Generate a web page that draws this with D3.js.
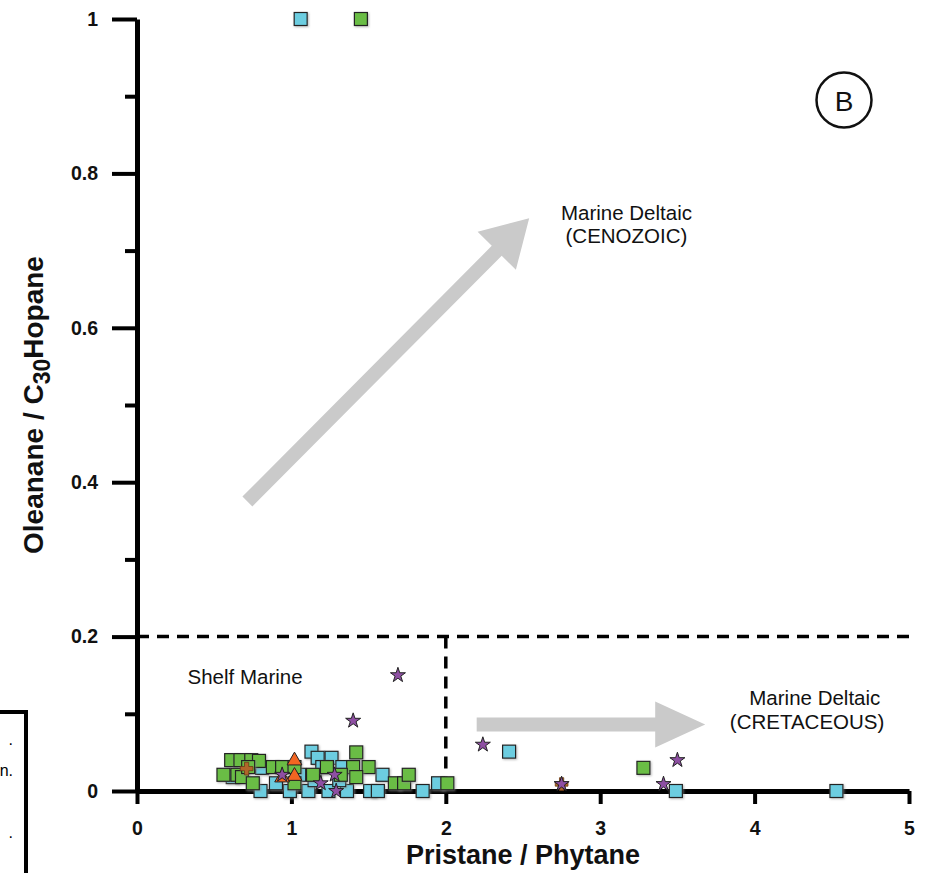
<!DOCTYPE html>
<html><head><meta charset="utf-8">
<script src="https://cdn.jsdelivr.net/npm/d3@7"></script>
<style>body{margin:0;background:#fff}svg{display:block;font-family:Arial,"Liberation Sans",sans-serif}</style>
</head><body>
<script>
// ---- data (Pristane/Phytane, Oleanane/C30Hopane) ----
const blueSquares = [
  [1.06,1.0],[2.41,0.051],[3.49,0.0],[4.53,0.0],
  [1.13,0.051],[1.17,0.043],[1.26,0.043],[0.81,0.030],[0.62,0.018],[1.59,0.021],
  [0.80,0.0],[0.99,0.0],[1.11,0.0],[1.24,0.0],[1.36,0.0],[1.51,0.0],[1.56,0.0],
  [1.85,0.0],[1.95,0.010],[1.31,0.014],[1.15,0.014],[1.05,0.021],[1.33,0.031],
  [0.90,0.010],[1.20,0.031]
];
const greenSquares = [
  [1.45,1.0],[3.28,0.030],
  [0.61,0.040],[0.67,0.040],[0.74,0.040],[0.79,0.039],[0.56,0.021],[0.65,0.021],
  [0.68,0.018],[0.75,0.010],[0.88,0.031],[0.94,0.031],[1.02,0.031],[1.14,0.021],
  [1.23,0.031],[1.42,0.050],[1.40,0.031],[1.50,0.031],[1.42,0.018],[1.67,0.010],
  [1.73,0.010],[1.76,0.021],[2.01,0.010],[1.02,0.010],[0.72,0.031],[1.32,0.021]
];
const triangles = [[1.02,0.038],[1.02,0.018],[0.94,0.016]];
const crosses = [[0.71,0.029],[2.75,0.009]];
const stars = [
  [1.69,0.150],[1.40,0.091],[2.24,0.060],[2.75,0.009],[3.41,0.009],[3.50,0.040],
  [0.94,0.021],[1.19,0.010],[1.28,0.021],[1.29,0.0]
];
const xTicks = [0,1,2,3,4,5];
const yTicks = [0,0.2,0.4,0.6,0.8,1];
const yMinor = [0.1,0.3,0.5,0.7,0.9];
const arrows = [
  {from:[0.715,0.375], to:[2.54,0.742], head:46, headHalf:27, half:7},
  {from:[2.20,0.086], to:[3.68,0.086], head:50, headHalf:23, half:7}
];
const labels = [
  {t:"Marine Deltaic", x:3.17, y:0.740},
  {t:"(CENOZOIC)", x:3.17, y:0.710},
  {t:"Marine Deltaic", x:4.39, y:0.111},
  {t:"(CRETACEOUS)", x:4.34, y:0.080},
  {t:"Shelf Marine", x:0.70, y:0.139}
];

const W=942,H=873;
const svg=d3.select("body").append("svg").attr("width",W).attr("height",H);
const x=d3.scaleLinear().domain([0,5]).range([137,909]);
const y=d3.scaleLinear().domain([0,1]).range([791,19]);

const defs=svg.append("defs");
const f=defs.append("filter").attr("id","sh").attr("x","-30%").attr("y","-30%").attr("width","170%").attr("height","170%");
f.append("feDropShadow").attr("dx",1).attr("dy",1).attr("stdDeviation",0.8).attr("flood-color","#888").attr("flood-opacity",0.6);

// arrows
arrows.forEach(a=>{
  const x0=x(a.from[0]),y0=y(a.from[1]),x1=x(a.to[0]),y1=y(a.to[1]);
  const L=Math.hypot(x1-x0,y1-y0),ux=(x1-x0)/L,uy=(y1-y0)/L,nx=-uy,ny=ux;
  const bx=x1-ux*a.head,by=y1-uy*a.head;
  const pts=[[x0+nx*a.half,y0+ny*a.half],[bx+nx*a.half,by+ny*a.half],[bx+nx*a.headHalf,by+ny*a.headHalf],
    [x1,y1],[bx-nx*a.headHalf,by-ny*a.headHalf],[bx-nx*a.half,by-ny*a.half],[x0-nx*a.half,y0-ny*a.half]];
  svg.append("polygon").attr("points",pts.map(p=>p.join(",")).join(" ")).attr("fill","#cacaca");
});

// dashed boundaries
svg.append("line").attr("x1",x(0)).attr("x2",x(5)).attr("y1",y(0.2)).attr("y2",y(0.2))
  .attr("stroke","#000").attr("stroke-width",3.5).attr("stroke-dasharray","12,8");
svg.append("line").attr("x1",x(2)).attr("x2",x(2)).attr("y1",y(0.2)).attr("y2",y(0))
  .attr("stroke","#000").attr("stroke-width",3.5).attr("stroke-dasharray","12,8");

// labels
svg.selectAll("text.lab").data(labels).enter().append("text").attr("class","lab")
  .attr("x",d=>x(d.x)).attr("y",d=>y(d.y)).attr("text-anchor","middle")
  .attr("font-size",20.5).attr("fill","#111").text(d=>d.t);

// B circle
svg.append("circle").attr("cx",844).attr("cy",100).attr("r",27.5).attr("fill","none").attr("stroke","#111").attr("stroke-width",2.5);
svg.append("text").attr("x",844).attr("y",110.5).attr("text-anchor","middle").attr("font-size",28).attr("fill","#111").text("B");

// axes
const yAxis=d3.axisLeft(y).tickValues(yTicks).tickSize(25).tickSizeOuter(0).tickPadding(14)
  .tickFormat(d=>d===0?"0":d===1?"1":d3.format(".1f")(d));
svg.append("g").attr("transform",`translate(${x(0)},0)`).call(yAxis);
svg.append("g").attr("transform",`translate(${x(0)},0)`).call(d3.axisLeft(y).tickValues(yMinor).tickSize(12).tickSizeOuter(0).tickFormat(""))
  .call(g=>g.select(".domain").remove());
const xAxis=d3.axisBottom(x).tickValues(xTicks).tickSize(13).tickSizeOuter(0).tickPadding(17.5).tickFormat(d3.format("d"));
svg.append("g").attr("transform",`translate(0,${y(0)})`).call(xAxis);
svg.selectAll(".domain").attr("stroke","#000").attr("stroke-width",5);
svg.selectAll(".tick line").attr("stroke","#000").attr("stroke-width",4);
svg.selectAll(".tick text").attr("font-size",19.5).attr("font-weight","bold").attr("fill","#111")
  .attr("font-family","Arial,'Liberation Sans',sans-serif");

// markers
const sq=13;
function squares(data,fill){
  svg.append("g").selectAll("rect").data(data).enter().append("rect")
    .attr("x",d=>x(d[0])-sq/2).attr("y",d=>y(d[1])-sq/2).attr("width",sq).attr("height",sq)
    .attr("fill",fill).attr("stroke","#222").attr("stroke-width",1.2).attr("filter","url(#sh)");
}
squares(blueSquares,"#6ccde0");
squares(greenSquares,"#6abd45");
svg.append("g").selectAll("path").data(triangles).enter().append("path")
  .attr("d",d3.symbol(d3.symbolTriangle,95)).attr("transform",d=>`translate(${x(d[0])},${y(d[1])-1})`)
  .attr("fill","#f26522").attr("stroke","#222").attr("stroke-width",1);
svg.append("g").selectAll("path").data(crosses).enter().append("path")
  .attr("d",d3.symbol(d3.symbolCross,90)).attr("transform",d=>`translate(${x(d[0])},${y(d[1])})`)
  .attr("fill","#b0652a").attr("stroke","#6b3a14").attr("stroke-width",0.8);
svg.append("g").selectAll("path").data(stars).enter().append("path")
  .attr("d",d3.symbol(d3.symbolStar,70)).attr("transform",d=>`translate(${x(d[0])},${y(d[1])})`)
  .attr("fill","#8e4fa3").attr("stroke","#222").attr("stroke-width",1);

// axis titles
svg.append("text").attr("x",(x(0)+x(5))/2).attr("y",864).attr("text-anchor","middle")
  .attr("font-size",27).attr("font-weight","bold").attr("fill","#111").text("Pristane / Phytane");
const yt=svg.append("text").attr("transform",`translate(43,${y(0.5)}) rotate(-90)`).attr("text-anchor","middle")
  .attr("font-size",28).attr("font-weight","bold").attr("fill","#111");
yt.append("tspan").text("Oleanane / C");
yt.append("tspan").attr("dy",7).attr("font-size",23).text("30");
yt.append("tspan").attr("dy",-7).text("Hopane");

// partial legend box at left edge
svg.append("path").attr("d","M0,712 H26 V873").attr("fill","none").attr("stroke","#000").attr("stroke-width",4);
const legFrag=[{t:".",y:745},{t:"n.",y:776},{t:".",y:838}];
svg.selectAll("text.leg").data(legFrag).enter().append("text").attr("class","leg")
  .attr("x",13).attr("y",d=>d.y).attr("text-anchor","end").attr("font-size",16).text(d=>d.t);
</script>
</body></html>
